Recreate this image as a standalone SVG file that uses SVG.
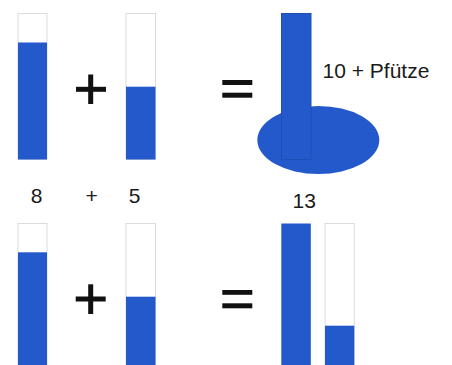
<svg xmlns="http://www.w3.org/2000/svg" width="452" height="365" viewBox="0 0 452 365">
<style>
.tube{fill:#ffffff;stroke:#dcdcdc;stroke-width:1}
.fill{fill:#2459cc}
.op{fill:#111111}
.txt{font-family:"Liberation Sans",Arial,sans-serif;fill:#1a1a1a;font-size:21px}
</style>
<rect width="452" height="365" fill="#ffffff"/>
<g id="tube-top-1">
<rect class="tube" x="18" y="13.5" width="29" height="146"/>
<rect class="fill" x="18" y="42.5" width="29" height="117"/>
</g>
<g id="plus-top">
<rect class="op" x="76" y="86.8" width="30" height="5"/>
<rect class="op" x="88.2" y="74.5" width="5" height="29.5"/>
</g>
<g id="tube-top-2">
<rect class="tube" x="126" y="13.5" width="29.5" height="146"/>
<rect class="fill" x="126" y="86.7" width="29.5" height="72.8"/>
</g>
<g id="equals-top">
<rect class="op" x="222.3" y="80" width="30" height="5"/>
<rect class="op" x="222.3" y="92.7" width="30" height="5"/>
</g>
<g id="puddle">
<ellipse class="fill" cx="318.3" cy="140" rx="61" ry="34"/>
<rect class="fill" x="281.5" y="13.5" width="29.5" height="146" stroke="#1e4fb5" stroke-width="1"/>
</g>
<g id="label-pfuetze">
<text class="txt" x="322.5" y="77.5" font-size="22.5">10 + Pfütze</text>
</g>
<g id="labels-sum">
<text class="txt" x="36.7" y="203.3" text-anchor="middle">8</text>
<text class="txt" x="91.7" y="202.5" text-anchor="middle" font-size="18.5">+</text>
<text class="txt" x="134.5" y="203.3" text-anchor="middle">5</text>
<text class="txt" x="304.2" y="207.7" text-anchor="middle">13</text>
</g>
<g id="tube-bottom-1">
<rect class="tube" x="18" y="223.5" width="29" height="145"/>
<rect class="fill" x="18" y="252.3" width="29" height="116"/>
</g>
<g id="plus-bottom">
<rect class="op" x="75.7" y="296.5" width="30" height="5"/>
<rect class="op" x="88.2" y="284.3" width="5" height="29.7"/>
</g>
<g id="tube-bottom-2">
<rect class="tube" x="126" y="223.5" width="29.5" height="145"/>
<rect class="fill" x="126" y="296.7" width="29.5" height="72"/>
</g>
<g id="equals-bottom">
<rect class="op" x="222.3" y="290" width="30" height="4.8"/>
<rect class="op" x="222.3" y="303.3" width="30" height="5"/>
</g>
<g id="tube-bottom-3">
<rect class="fill" x="281.3" y="223.5" width="29.5" height="145"/>
</g>
<g id="tube-bottom-4">
<rect class="tube" x="325" y="223.5" width="29.3" height="145"/>
<rect class="fill" x="325" y="325.7" width="29.3" height="43"/>
</g>
<g id="connectors"/>
</svg>
